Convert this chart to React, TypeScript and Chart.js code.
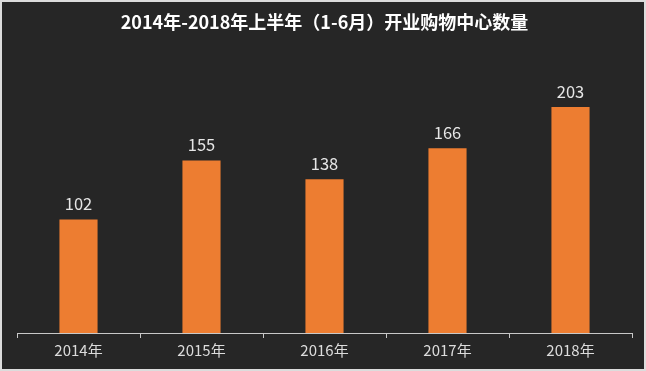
import React, { useEffect, useRef } from "react";
import { Chart, registerables } from "chart.js";

Chart.register(...registerables);

const title = "2014年-2018年上半年（1-6月）开业购物中心数量";
const categories = ["2014年", "2015年", "2016年", "2017年", "2018年"];
const values = [102, 155, 138, 166, 203];

const FONT = "'Noto Sans CJK SC', 'Noto Sans', sans-serif";

const valueLabels = {
  id: "valueLabels",
  afterDatasetsDraw(chart: any) {
    const ctx = chart.ctx;
    const meta = chart.getDatasetMeta(0);
    ctx.save();
    ctx.fillStyle = "#e6e6e6";
    ctx.font = `16.5px ${FONT}`;
    ctx.textAlign = "center";
    ctx.textBaseline = "bottom";
    meta.data.forEach((el: any, i: number) => {
      const { x, y } = el.getProps(["x", "y"], true);
      ctx.fillText(String(values[i]), x, y - 7);
    });
    ctx.restore();
  },
};

export default function App() {
  const ref = useRef<HTMLCanvasElement>(null);
  useEffect(() => {
    document.body.style.margin = "0";
    const chart = new Chart(ref.current!, {
      type: "bar",
      data: {
        labels: categories,
        datasets: [
          {
            data: values,
            backgroundColor: "#ED7D31",
            categoryPercentage: 1,
            barPercentage: 0.31,
          },
        ],
      },
      options: {
        animation: false,
        responsive: false,
        devicePixelRatio: 1,
        layout: { padding: { left: 15, right: 12, top: 0, bottom: 7 } },
        plugins: {
          legend: { display: false },
          tooltip: { enabled: false },
          title: {
            display: true,
            text: title,
            color: "#ffffff",
            font: { family: FONT, size: 18, weight: "bold" },
            padding: { top: 9, bottom: 22 },
          },
        },
        scales: {
          x: {
            offset: true,
            grid: {
              display: true,
              offset: true,
              drawOnChartArea: false,
              drawTicks: true,
              tickLength: 5,
              color: "#c8c8c8",
              lineWidth: 1,
            },
            border: { display: true, color: "#c8c8c8", width: 1 },
            ticks: {
              color: "#dcdcdc",
              font: { family: FONT, size: 15 },
              padding: 3,
            },
          },
          y: {
            display: false,
            min: 0,
            max: 250,
          },
        },
      },
      plugins: [valueLabels],
    });
    return () => chart.destroy();
  }, []);
  return (
    <div
      style={{
        width: 646,
        height: 371,
        boxSizing: "border-box",
        border: "2px solid #dcdcdc",
        background: "#262626",
      }}
    >
      <canvas ref={ref} width={642} height={367} style={{ display: "block" }} />
    </div>
  );
}
